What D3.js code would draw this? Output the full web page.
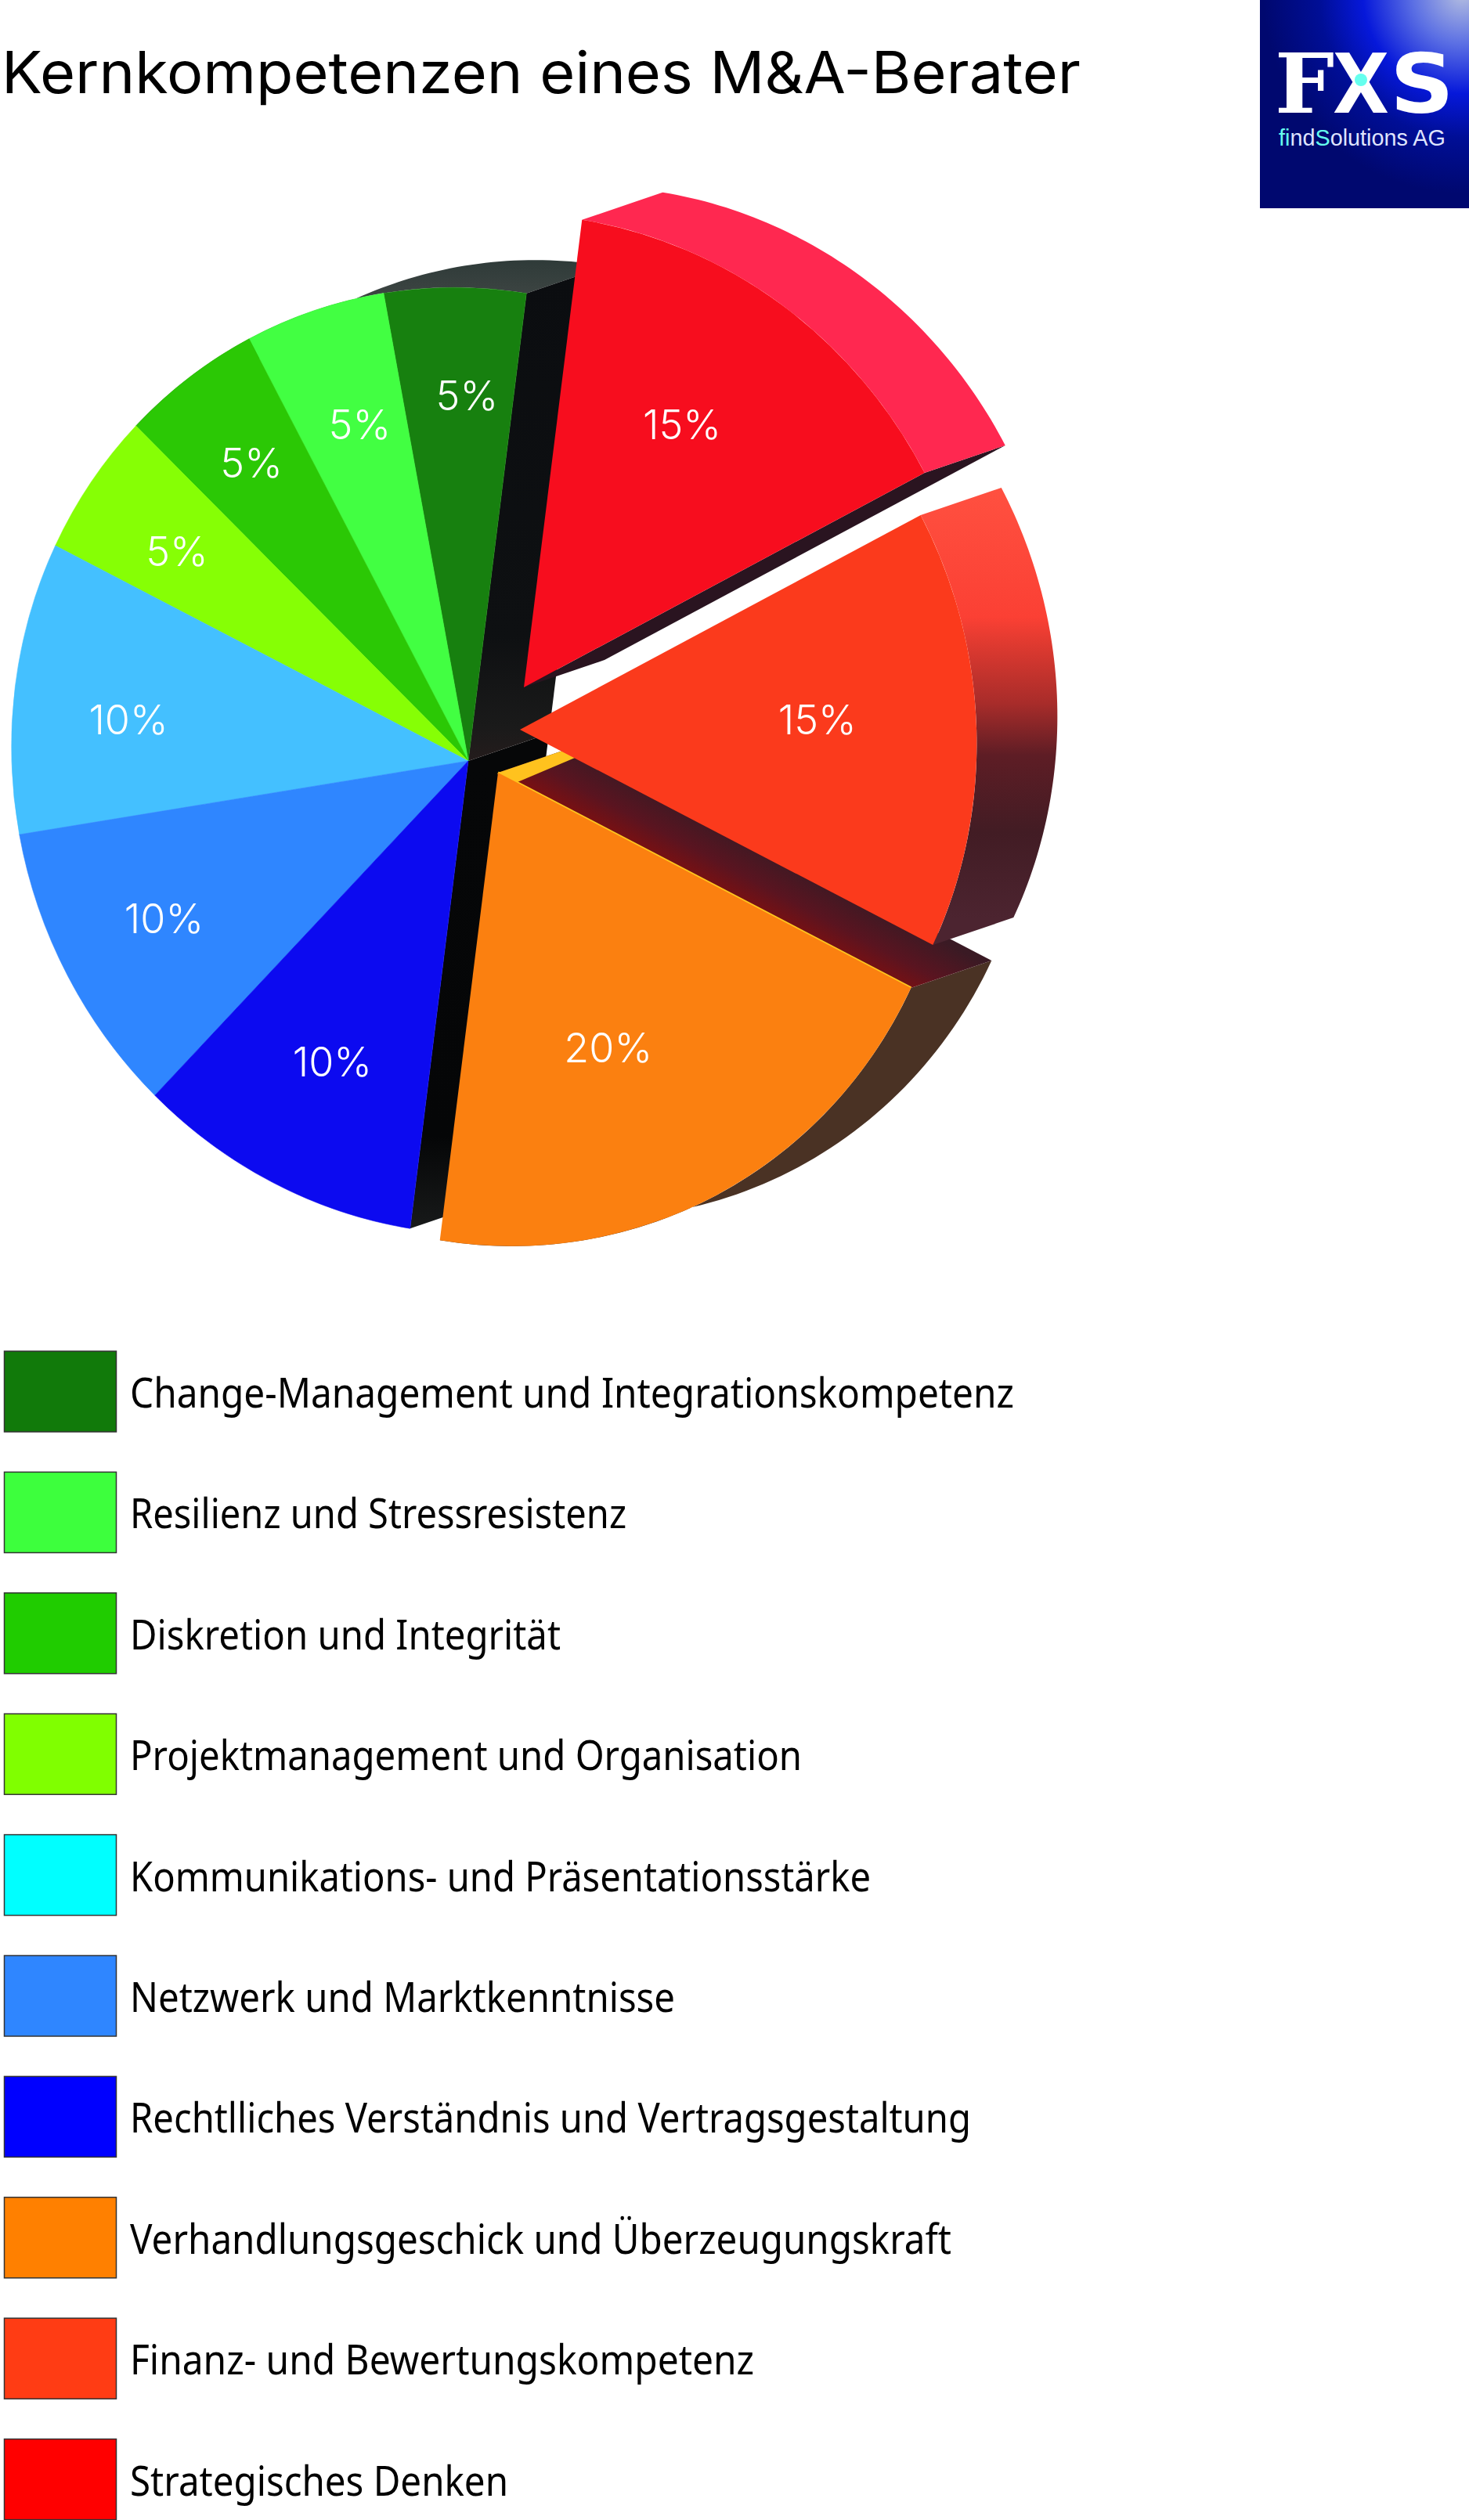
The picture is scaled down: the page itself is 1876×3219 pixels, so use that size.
<!DOCTYPE html>
<html><head><meta charset="utf-8">
<script src="https://cdn.jsdelivr.net/npm/d3@7"></script>
<style>html,body{margin:0;padding:0;background:#fff}svg{display:block}</style>
</head><body><div id="c"></div>
<script>
// ---- data (legend order)
const categories = ["Change-Management und Integrationskompetenz","Resilienz und Stressresistenz","Diskretion und Integrität","Projektmanagement und Organisation","Kommunikations- und Präsentationsstärke","Netzwerk und Marktkenntnisse","Rechtlliches Verständnis und Vertragsgestaltung","Verhandlungsgeschick und Überzeugungskraft","Finanz- und Bewertungskompetenz","Strategisches Denken"];
const values = [5,5,5,5,10,10,10,20,15,15];
const sliceColors = ["#17800f","#42ff42","#2bc805","#86ff05","#44c0ff","#2f86ff","#0c0af0","#fb8010","#fb3a1c","#f70d1e"];
const legendColors = ["#117a0a","#3dff3d","#20cc00","#80ff00","#00ffff","#2f86ff","#0000ff","#ff8000","#ff3c14","#ff0000"];
const title = "Kernkompetenzen eines M&A-Berater";

// ---- layout
const W=1876,H=3219, cx=598, cy=972, R=600;
const startDeg=8.2, extrude=[103,-35], tiltDeg=-20, sMajor=608/600, sMinor=580/600;
// explode offsets (by category index), 0 for the body
const explode = i => i===7?[38,15]:i===8?[66,-40]:i===9?[71,-94]:[0,0];
const labelRadius=[466,451,470,458,437,438,422,379,380,391];
const labelDelta=[0.6,0.9,0.7,0.5,-1.4,0.3,-1.9,6,-1,-4.1];
const legendWidth=[1129,634,550,858,946,696,1074,1049,797,483];

const svg=d3.select("#c").append("svg").attr("width",W).attr("height",H).attr("viewBox",`0 0 ${W} ${H}`);
const defs=svg.append("defs");
function lin(id,x1,y1,x2,y2,stops){
  const g=defs.append("linearGradient").attr("id",id).attr("gradientUnits","userSpaceOnUse")
    .attr("x1",x1).attr("y1",y1).attr("x2",x2).attr("y2",y2);
  stops.forEach(s=>g.append("stop").attr("offset",s[0]).attr("stop-color",s[1]));
}
lin("gFinWall",0,623,0,1174,[[0,"#ff5040"],[0.3,"#fb4034"],[0.36,"#e03a30"],[0.5,"#a82c2a"],[0.62,"#5e1d25"],[0.8,"#421c24"],[1,"#4c2430"]]);
lin("gMaroon",760,1052,797,983,[[0,"#7a1012"],[0.4,"#5a1420"],[1,"#3a1a24"]]);
lin("gBlack",0,337,0,972,[[0,"#0b0d10"],[0.75,"#0e1012"],[0.93,"#1a1a1a"],[1,"#241c1c"]]);
lin("gBlack2",0,972,0,1571,[[0,"#060708"],[0.8,"#050607"],[1,"#181a1a"]]);
lin("gLedge",0,330,0,375,[[0,"#2e3a38"],[1,"#3c4442"]]);
const lg=defs.append("radialGradient").attr("id","gLogo").attr("gradientUnits","userSpaceOnUse")
  .attr("cx",W-8).attr("cy",-8).attr("r",255);
[[0,"#b4bee0"],[0.25,"#5c70e4"],[0.5,"#0618da"],[0.72,"#000e96"],[1,"#00086f"]].forEach(s=>lg.append("stop").attr("offset",s[0]).attr("stop-color",s[1]));

const pie=d3.pie().sort(null).value(d=>d)
  .startAngle(startDeg*Math.PI/180).endAngle((startDeg-360)*Math.PI/180);
const arcs=pie(values);
const arc=d3.arc().innerRadius(0).outerRadius(R);
const tform=`rotate(${tiltDeg}) scale(${sMinor},${sMajor}) rotate(${-tiltDeg})`;
// same affine as tform, as a point function (a = radians clockwise from north)
const t=tiltDeg*Math.PI/180;
function mapPt(a,r){
  const x=r*Math.sin(a), y=-r*Math.cos(a);
  const c=Math.cos(t), s=Math.sin(t);
  const x1=x*c+y*s, y1=-x*s+y*c;
  const x2=x1*sMinor, y2=y1*sMajor;
  return [x2*c-y2*s, x2*s+y2*c];
}
function origin(i,k){const e=explode(i);return [cx+e[0]+k*extrude[0],cy+e[1]+k*extrude[1]];}
function at(i,a,r,k){const o=origin(i,k),p=mapPt(a,r);return [o[0]+p[0],o[1]+p[1]];}
const poly=d3.line();
function arcPts(i,a0,a1,k){return d3.range(0,61).map(j=>at(i,a0+(a1-a0)*j/60,R,k));}
function outerWall(i,a0,a1){return poly(arcPts(i,a0,a1,0).concat(arcPts(i,a0,a1,1).reverse()))+"Z";}
function radialWall(i,a){return poly([at(i,a,0,0),at(i,a,R,0),at(i,a,R,1),at(i,a,0,1)])+"Z";}

const gWalls=svg.append("g");
// body: grey outer ledge + black radial walls
const bodyEnd=arcs[6].endAngle, bodyStart=arcs[0].startAngle;
gWalls.append("path").attr("d",outerWall(0,arcs[2].endAngle,bodyStart)).attr("fill","url(#gLedge)");
gWalls.append("path").attr("d",radialWall(6,bodyEnd)).attr("fill","url(#gBlack2)");
gWalls.append("path").attr("d",radialWall(0,bodyStart)).attr("fill","url(#gBlack)");

// faces of the body
svg.append("g").selectAll("path").data(arcs.slice(0,7)).join("path")
  .attr("transform",`translate(${cx},${cy}) ${tform}`).attr("d",arc).attr("fill",(d,i)=>sliceColors[i])
  .attr("stroke",(d,i)=>sliceColors[i]).attr("stroke-width",0.6);

// exploded slices, back to front
const gEx=svg.append("g");
// orange (index 7)
{
  const a=arcs[7];
  gEx.append("path").attr("d",outerWall(7,a.startAngle,a.endAngle)).attr("fill","#4a3224");
  gEx.append("path").attr("d",radialWall(7,a.endAngle)).attr("fill","url(#gMaroon)");
  const p0=at(7,a.endAngle,0,0), p1=at(7,a.endAngle,R,0), q0=at(7,a.endAngle,0,1);
  // yellow rim along the edge and the short end at the vertex
  gEx.append("path").attr("d",poly([p0,p1])).attr("stroke","#ffc61e").attr("stroke-width",3.5).attr("fill","none");
  const f=0.045, ex=[p0[0]+(p1[0]-p0[0])*f,p0[1]+(p1[1]-p0[1])*f];
  gEx.append("path").attr("d",poly([p0,q0,[q0[0]+14,q0[1]+8],ex])+"Z").attr("fill","#ffc21e");
  gEx.append("path").attr("transform",`translate(${origin(7,0)}) ${tform}`).attr("d",arc(a)).attr("fill",sliceColors[7]);
}
// Finanz (index 8)
{
  const a=arcs[8];
  gEx.append("path").attr("d",outerWall(8,a.startAngle,a.endAngle)).attr("fill","url(#gFinWall)");
  gEx.append("path").attr("transform",`translate(${origin(8,0)}) ${tform}`).attr("d",arc(a)).attr("fill",sliceColors[8]);
}
// Strategisch (index 9)
{
  const a=arcs[9];
  gEx.append("path").attr("d",radialWall(9,a.startAngle)).attr("fill","#2a1420");
  gEx.append("path").attr("d",outerWall(9,a.startAngle,a.endAngle)).attr("fill","#ff2850");
  gEx.append("path").attr("transform",`translate(${origin(9,0)}) ${tform}`).attr("d",arc(a)).attr("fill",sliceColors[9]);
}

// percent labels
svg.append("g").selectAll("text").data(arcs).join("text")
  .each(function(d,i){
    const a=(d.startAngle+d.endAngle)/2+labelDelta[i]*Math.PI/180;
    const o=origin(i,0);
    const x=o[0]+labelRadius[i]*Math.sin(a), y=o[1]-labelRadius[i]*Math.cos(a);
    d3.select(this).attr("x",x).attr("y",y+18);
  })
  .attr("text-anchor","middle").attr("font-family","Inter").attr("font-weight",300).attr("font-size",52).attr("fill","#fff")
  .text(d=>d.data+"%");

// title
svg.append("text").attr("x",2).attr("y",119).attr("font-family","Inter").attr("font-size",74)
  .attr("textLength",1378).attr("lengthAdjust","spacingAndGlyphs").attr("fill","#000").text(title);

// logo
svg.append("rect").attr("x",1609).attr("y",0).attr("width",W-1609).attr("height",266).attr("fill","url(#gLogo)");
svg.append("text").attr("x",1628).attr("y",144).attr("font-family","'DejaVu Serif'").attr("font-weight","bold").attr("font-size",105)
  .attr("textLength",76).attr("lengthAdjust","spacingAndGlyphs").attr("fill","#fff").text("F");
svg.append("text").attr("x",1702).attr("y",144).attr("font-family","'DejaVu Sans'").attr("font-weight","bold").attr("font-size",105)
  .attr("textLength",72).attr("lengthAdjust","spacingAndGlyphs").attr("fill","#fff").text("X");
svg.append("text").attr("x",1775).attr("y",144).attr("font-family","'DejaVu Sans'").attr("font-weight","bold").attr("font-size",105)
  .attr("textLength",82).attr("lengthAdjust","spacingAndGlyphs").attr("fill","#fff").text("S");
svg.append("circle").attr("cx",1738).attr("cy",102).attr("r",8).attr("fill","#66ffee");
const sub=svg.append("text").attr("x",1633).attr("y",186).attr("font-family","'Liberation Sans'").attr("font-size",28.8)
  .attr("fill","#dfe4ff");
sub.append("tspan").attr("fill","#66ffee").text("fi");
sub.append("tspan").text("nd");
sub.append("tspan").attr("fill","#66ffee").text("S");
sub.append("tspan").text("olutions AG");

// legend
const y=d3.scalePoint().domain(categories).range([1726,1726+9*154.4]);
const lgG=svg.append("g").selectAll("g").data(categories).join("g").attr("transform",d=>`translate(0,${y(d)})`);
lgG.append("rect").attr("x",5.5).attr("y",0).attr("width",143).attr("height",103)
  .attr("fill",(d,i)=>legendColors[i]).attr("stroke","#333").attr("stroke-width",1.5);
lgG.append("text").attr("x",166).attr("y",72).attr("font-family","'Noto Sans'").attr("font-size",53)
  .attr("textLength",(d,i)=>legendWidth[i]).attr("lengthAdjust","spacingAndGlyphs")
  .attr("fill","#000").text(d=>d);
</script></body></html>
